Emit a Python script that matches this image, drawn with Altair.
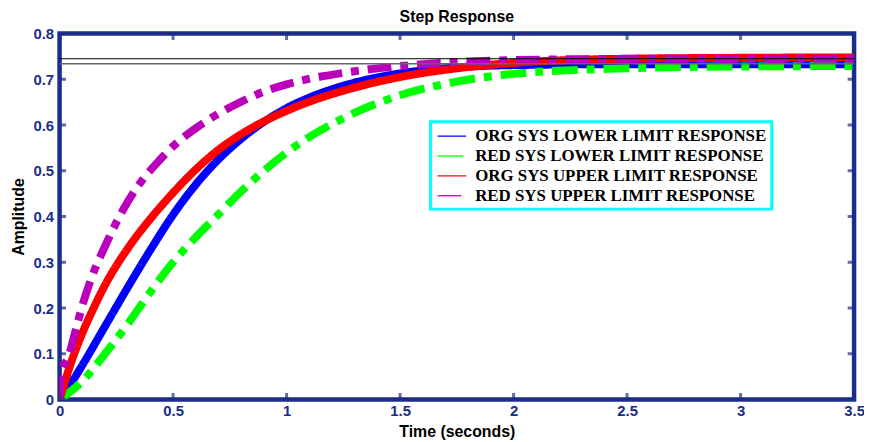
import altair as alt
import pandas as pd

# ---- data ----
x_ticks = [0, 0.5, 1, 1.5, 2, 2.5, 3, 3.5]
y_ticks = [0, 0.1, 0.2, 0.3, 0.4, 0.5, 0.6, 0.7, 0.8]

series_names = [
    "ORG SYS LOWER LIMIT RESPONSE",
    "RED SYS LOWER LIMIT RESPONSE",
    "ORG SYS UPPER LIMIT RESPONSE",
    "RED SYS UPPER LIMIT RESPONSE",
]
series_colors = ["#0000ff", "#00ff00", "#ff0000", "#bb00bb"]
series_dash = [[1, 0], [26, 9, 8, 9], [1, 0], [24, 9, 8, 9]]

org_lower_t = [0, 0.05, 0.1, 0.2, 0.3, 0.4, 0.5, 0.6, 0.7, 0.8, 0.9, 1.0, 1.1, 1.25, 1.5, 1.75, 2.0, 2.5, 3.0, 3.5]
org_lower_y = [0, 0.035, 0.075, 0.16, 0.245, 0.327, 0.404, 0.47, 0.525, 0.57, 0.607, 0.637, 0.66, 0.686, 0.713, 0.726, 0.731, 0.733, 0.733, 0.733]

red_lower_t = [0, 0.1, 0.2, 0.3, 0.4, 0.5, 0.6, 0.7, 0.8, 0.9, 1.0, 1.25, 1.5, 1.75, 2.0, 2.5, 3.0, 3.5]
red_lower_y = [0, 0.04, 0.1, 0.165, 0.235, 0.3, 0.355, 0.405, 0.455, 0.5, 0.54, 0.615, 0.665, 0.695, 0.712, 0.724, 0.728, 0.729]

org_upper_t = [0, 0.05, 0.1, 0.15, 0.2, 0.3, 0.4, 0.5, 0.6, 0.7, 0.8, 0.9, 1.0, 1.1, 1.25, 1.5, 1.75, 2.0, 2.5, 3.0, 3.5]
org_upper_y = [0, 0.08, 0.145, 0.2, 0.25, 0.33, 0.395, 0.452, 0.503, 0.546, 0.58, 0.608, 0.631, 0.651, 0.675, 0.705, 0.724, 0.736, 0.745, 0.747, 0.748]

red_upper_t = [0, 0.005, 0.04, 0.07, 0.1, 0.14, 0.2, 0.28, 0.35, 0.44, 0.51, 0.6, 0.7, 0.8, 0.9, 1.0, 1.12, 1.25, 1.4, 1.6, 1.8, 2.0, 2.3, 2.6, 3.0, 3.5]
red_upper_y = [0, 0.057, 0.095, 0.15, 0.205, 0.265, 0.335, 0.415, 0.47, 0.523, 0.558, 0.593, 0.625, 0.651, 0.673, 0.689, 0.703, 0.714, 0.724, 0.733, 0.739, 0.742, 0.744, 0.745, 0.745, 0.745]

steady_levels = [0.745, 0.734]

NAVY = "#1b2d88"

# ---- tables ----
rows = []
for name, ts, ys in zip(series_names,
                        [org_lower_t, red_lower_t, org_upper_t, red_upper_t],
                        [org_lower_y, red_lower_y, org_upper_y, red_upper_y]):
    for t, y in zip(ts, ys):
        rows.append({"series": name, "t": t, "amp": y})
df = pd.DataFrame(rows)

xs = alt.Scale(domain=[0, 3.5], nice=False, zero=False)
ys = alt.Scale(domain=[0, 0.8], nice=False, zero=False)

legend = alt.Legend(
    title=None, orient="none", legendX=374, legendY=89,
    strokeColor="#00ffff", fillColor="white", padding=5,
    symbolType="M-1.7,0H1.7", symbolSize=289, symbolStrokeWidth=1.3, symbolOffset=7,
    symbolDash=[1, 0], labelOffset=14, rowPadding=2,
    labelFont="Liberation Serif", labelFontWeight="bold", labelFontSize=17,
    labelColor="black", labelLimit=400,
)

color = alt.Color("series:N", scale=alt.Scale(domain=series_names, range=series_colors), legend=legend)
dash = alt.StrokeDash("series:N", scale=alt.Scale(domain=series_names, range=series_dash), legend=None)

x_enc = alt.X("t:Q", scale=xs, axis=alt.Axis(
    values=x_ticks, format="~g", title="Time (seconds)", grid=False, ticks=False, domain=False,
    labelFlush=False, labelPadding=4, titlePadding=5,
))
y_enc = alt.Y("amp:Q", scale=ys, axis=alt.Axis(
    values=y_ticks, format="~g", title="Amplitude", grid=False, ticks=False, domain=False,
    labelFlush=False, labelPadding=6, titlePadding=7,
))

layers = []
for name in series_names:
    layers.append(
        alt.Chart(df).transform_filter(alt.datum.series == name)
        .mark_line(strokeWidth=8, clip=True, strokeCap="butt", interpolate="monotone")
        .encode(x=x_enc, y=y_enc, color=color, strokeDash=dash)
    )

sdf = pd.DataFrame({"lvl": steady_levels, "k": [0, 1]})
steady_hi = alt.Chart(sdf).transform_filter(alt.datum.k == 0).mark_rule(
    color="black", strokeWidth=1).encode(y=alt.Y("lvl:Q", scale=ys))
steady_lo = alt.Chart(sdf).transform_filter(alt.datum.k == 1).mark_rule(
    color="#666666", strokeWidth=1.6).encode(y=alt.Y("lvl:Q", scale=ys))

tick_rows = []
for v in x_ticks:
    tick_rows.append({"x": v, "y": y_ticks[0]})
    tick_rows.append({"x": v, "y": y_ticks[-1]})
tdf_x = pd.DataFrame(tick_rows)
tick_rows = []
for v in y_ticks:
    tick_rows.append({"x": x_ticks[0], "y": v})
    tick_rows.append({"x": x_ticks[-1], "y": v})
tdf_y = pd.DataFrame(tick_rows)

xt = alt.Chart(tdf_x).mark_tick(orient="vertical", color=NAVY, size=13, thickness=3, clip=True).encode(
    x=alt.X("x:Q", scale=xs), y=alt.Y("y:Q", scale=ys))
yt = alt.Chart(tdf_y).mark_tick(orient="horizontal", color=NAVY, size=13, thickness=3, clip=True).encode(
    x=alt.X("x:Q", scale=xs), y=alt.Y("y:Q", scale=ys))

chart = alt.layer(*layers, steady_hi, steady_lo, xt, yt).properties(
    width=801, height=369,
    title=alt.Title("Step Response", fontSize=16, font="Liberation Sans", fontWeight="bold",
                    color="black", anchor="middle", offset=2),
    autosize=alt.AutoSizeParams(type="none"),
    padding={"left": 52, "top": 24, "right": 10, "bottom": 40},
).configure_view(
    stroke=NAVY, strokeWidth=4.5
).configure_axis(
    labelFont="Liberation Sans", labelFontWeight="bold", labelFontSize=15, labelColor=NAVY,
    titleFont="Liberation Sans", titleFontWeight="bold", titleFontSize=16, titleColor="black",
).configure_legend(
    strokeWidth=3
)

chart.save("out.html", embed_options={"renderer": "svg", "actions": False})
